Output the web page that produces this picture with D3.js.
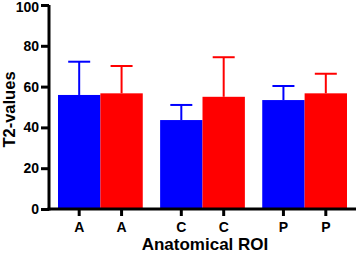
<!DOCTYPE html>
<html>
<head>
<meta charset="utf-8">
<script src="https://cdn.jsdelivr.net/npm/d3@7"></script>
<style>
  body { margin: 0; background: #fff; }
  text { font-family: "Liberation Sans", Arial, sans-serif; font-weight: bold; }
</style>
</head>
<body>
<div id="chart"></div>
<script>
// chart values
const regions = ["A", "C", "P"];
const series = ["blue", "red"];
const means = [[55.9, 56.7], [43.6, 55.0], [53.4, 56.7]];
const upper = [[72.2, 70.1], [51.0, 74.4], [60.3, 66.3]];
const yTicks = [0, 20, 40, 60, 80, 100];

const W = 356, H = 253;
const margin = { top: 5, right: 4, bottom: 44, left: 49 };
const width = W - margin.left - margin.right;
const height = H - margin.top - margin.bottom;

const svg = d3.select("#chart").append("svg")
    .attr("width", W)
    .attr("height", H)
  .append("g")
    .attr("transform", "translate(" + margin.left + "," + margin.top + ")");

const x0 = d3.scaleBand()
    .domain(regions)
    .range([9, 298])
    .paddingInner(0.17);

const x1 = d3.scaleBand()
    .domain(series)
    .range([0, x0.bandwidth()]);

const yScale = d3.scaleLinear()
    .domain([0, 100])
    .range([height, 0]);

const color = d3.scaleOrdinal().domain(series).range(["#0000ff", "#ff0000"]);

const rows = [];
regions.forEach((r, i) => {
    series.forEach((s, j) => {
        rows.push({ region: r, key: s, value: means[i][j], hi: upper[i][j] });
    });
});

const bar = svg.append("g").selectAll("g")
    .data(rows)
    .enter()
    .append("g")
    .attr("transform", d => "translate(" + (x0(d.region) + x1(d.key)) + ",0)");

// error bars (upper only)
bar.append("line")
    .attr("x1", x1.bandwidth() / 2)
    .attr("x2", x1.bandwidth() / 2)
    .attr("y1", d => yScale(d.value))
    .attr("y2", d => yScale(d.hi))
    .attr("stroke", d => color(d.key))
    .attr("stroke-width", 2);

bar.append("line")
    .attr("x1", x1.bandwidth() / 2 - 11)
    .attr("x2", x1.bandwidth() / 2 + 11)
    .attr("y1", d => yScale(d.hi))
    .attr("y2", d => yScale(d.hi))
    .attr("stroke", d => color(d.key))
    .attr("stroke-width", 2);

bar.append("rect")
    .attr("x", 0)
    .attr("y", d => yScale(d.value))
    .attr("width", x1.bandwidth())
    .attr("height", d => height - yScale(d.value))
    .attr("fill", d => color(d.key));

// y axis
const yAxis = svg.append("g")
    .call(d3.axisLeft(yScale).tickValues(yTicks).tickSize(8).tickPadding(2));
yAxis.select(".domain").attr("stroke-width", 3).attr("d", "M0," + (height + 1.5) + "V0");
yAxis.selectAll(".tick line").attr("stroke-width", 3);
yAxis.selectAll(".tick text").attr("font-size", "14px").attr("fill", "#000")
    .attr("font-family", "Liberation Sans, Arial, sans-serif").attr("font-weight", "bold");
// top label sits right at the edge, nudge it down a bit so it isn't clipped
yAxis.selectAll(".tick text").filter(d => d === 100).attr("dy", "0.45em");

// x axis
const xAxis = svg.append("g")
    .attr("transform", "translate(0," + height + ")");
xAxis.append("line")
    .attr("x1", -1.5).attr("x2", width + 4)
    .attr("stroke", "#000").attr("stroke-width", 3);
const xTicks = xAxis.selectAll(".xt")
    .data(rows)
    .enter()
    .append("g")
    .attr("transform", d => "translate(" + (x0(d.region) + x1(d.key) + x1.bandwidth() / 2) + ",0)");
xTicks.append("line")
    .attr("y1", 0).attr("y2", 7)
    .attr("stroke", "#000").attr("stroke-width", 3);
xTicks.append("text")
    .attr("y", 22.5)
    .attr("text-anchor", "middle")
    .attr("font-size", "14px")
    .text(d => d.region);

// axis titles
svg.append("text")
    .attr("x", 156)
    .attr("y", height + 41)
    .attr("text-anchor", "middle")
    .attr("font-size", "17px")
    .text("Anatomical ROI");

svg.append("text")
    .attr("transform", "rotate(-90)")
    .attr("x", -104.5)
    .attr("y", -34)
    .attr("text-anchor", "middle")
    .attr("font-size", "16.5px")
    .text("T2-values");
</script>
</body>
</html>
